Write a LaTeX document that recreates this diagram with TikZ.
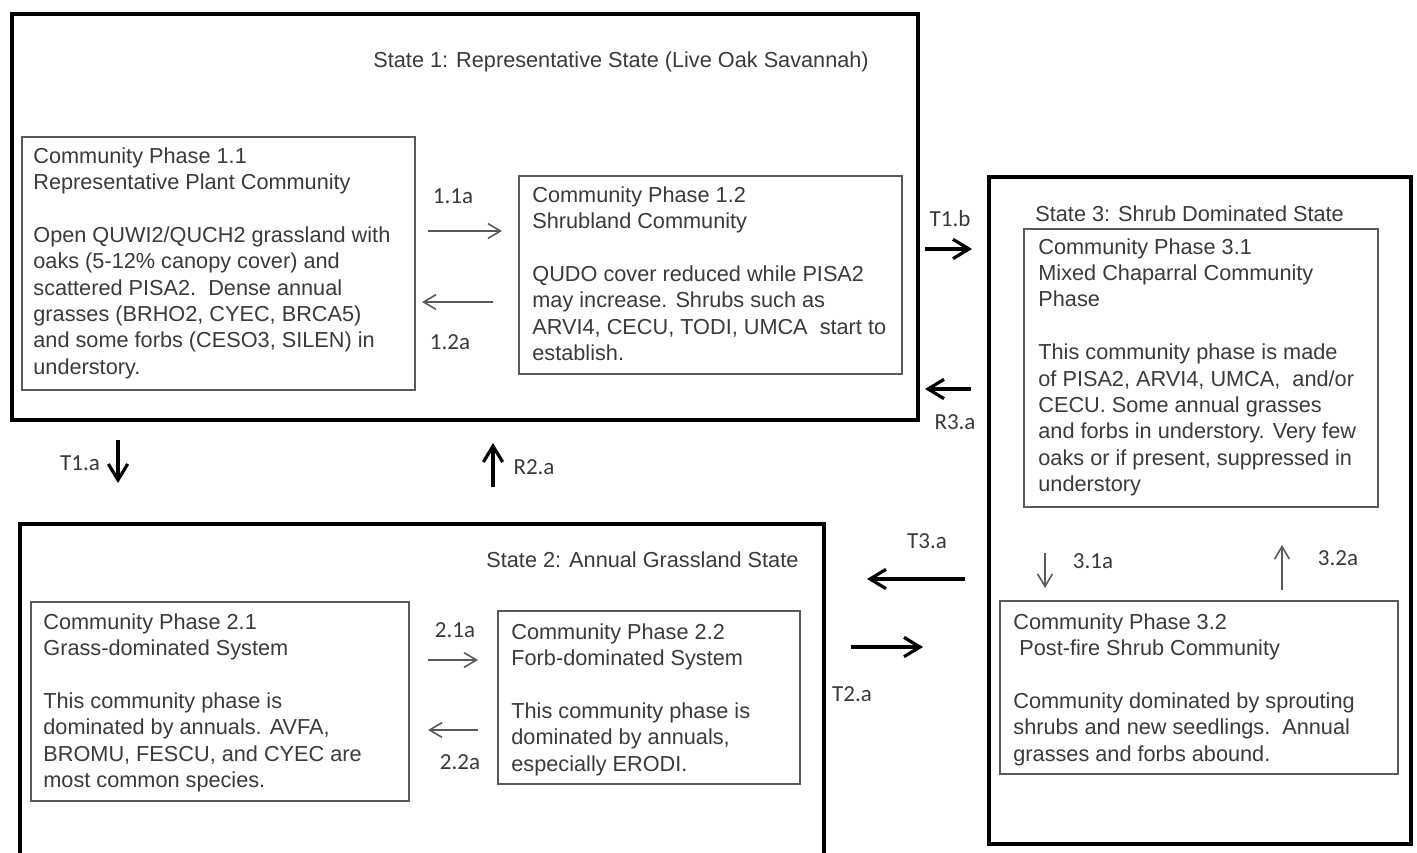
\documentclass[tikz,border=0pt]{standalone}
\usepackage{fontspec}
\setmainfont{Liberation Sans}
\newfontfamily\lblfont{Carlito}
\usetikzlibrary{arrows.meta,positioning,calc}
\definecolor{ink}{HTML}{3A3A3A}
\definecolor{frame}{HTML}{5A5A5A}

\begin{document}
\begin{tikzpicture}[x=0.5pt,y=-0.5pt,
  statebox/.style={draw=black,line width=2pt,anchor=north west,inner sep=0pt},
  phasebox/.style={draw=frame,line width=0.8pt,anchor=north west,inner sep=0pt},
  phasetext/.style={anchor=north west,inner sep=0pt,align=left,text=ink,font=\fontsize{10.85}{13.2}\selectfont},
  titletext/.style={anchor=west,inner sep=0pt,text=ink,font=\fontsize{10.85}{13.2}\selectfont},
  lbl/.style={inner sep=0pt,text=ink,font=\lblfont\fontsize{11.5}{13}\selectfont},
  phaseshift/.style={-{Straight Barb[length=2.2mm,width=2.6mm]},draw=frame,line width=0.8pt},
  trans/.style={-{Straight Barb[length=2.8mm,width=3.4mm]},draw=black,line width=1.6pt}]
\clip (0,0) rectangle (1417,852);

% states
\node[statebox,minimum width=453pt,minimum height=203pt] (s1) at (10,12) {};
\node[statebox,minimum width=211pt,minimum height=333.5pt] (s3) at (987,175) {};
\node[statebox,minimum width=402pt,minimum height=189pt] (s2) at (18,522) {};
\node[titletext] (s1t) at (373,62) {State 1: Representative State (Live Oak Savannah)};
\node[titletext] (s3t) at (1035,214) {State 3: Shrub Dominated State};
\node[titletext] (s2t) at (486,560) {State 2: Annual Grassland State};

% community phases
\node[phasebox,minimum width=196.5pt,minimum height=126.5pt] (cp11) at (21,136) {};
\node[phasetext] (cp11t) at (33,147) {Community Phase 1.1\\Representative Plant Community\\[13.2pt]
Open QUWI2/QUCH2 grassland with\\oaks (5-12\% canopy cover) and\\scattered PISA2.\ \ Dense annual\\
grasses (BRHO2, CYEC, BRCA5)\\and some forbs (CESO3, SILEN) in\\understory.};

\node[phasebox,minimum width=191.5pt,minimum height=99pt] (cp12) at (518,175) {};
\node[phasetext] (cp12t) at (532,186) {Community Phase 1.2\\Shrubland Community\\[13.2pt]
QUDO cover reduced while PISA2\\may increase. Shrubs such as\\ARVI4, CECU, TODI, UMCA\ \ start to\\establish.};

\node[phasebox,minimum width=177pt,minimum height=139pt] (cp31) at (1023,228) {};
\node[phasetext] (cp31t) at (1038,238) {Community Phase 3.1\\Mixed Chaparral Community\\Phase\\[13.2pt]
This community phase is made\\of PISA2, ARVI4, UMCA,\ \ and/or\\CECU. Some annual grasses\\
and forbs in understory. Very few\\oaks or if present, suppressed in\\understory};

\node[phasebox,minimum width=199pt,minimum height=86.5pt] (cp32) at (999,600) {};
\node[phasetext] (cp32t) at (1013,613) {Community Phase 3.2\\\ Post-fire Shrub Community\\[13.2pt]
Community dominated by sprouting\\shrubs and new seedlings.\ \ Annual\\grasses and forbs abound.};

\node[phasebox,minimum width=189pt,minimum height=99.5pt] (cp21) at (30,601) {};
\node[phasetext] (cp21t) at (43,613) {Community Phase 2.1\\Grass-dominated System\\[13.2pt]
This community phase is\\dominated by annuals. AVFA,\\BROMU, FESCU, and CYEC are\\most common species.};

\node[phasebox,minimum width=151pt,minimum height=86.5pt] (cp22) at (497,610) {};
\node[phasetext] (cp22t) at (511,623) {Community Phase 2.2\\Forb-dominated System\\[13.2pt]
This community phase is\\dominated by annuals,\\especially ERODI.};

% arrow ends
\coordinate (a11s) at (428,231); \coordinate (a11e) at (502,231);
\coordinate (a12s) at (493,302); \coordinate (a12e) at (422,302);
\coordinate (a21s) at (428,660); \coordinate (a21e) at (478,660);
\coordinate (a22s) at (478,730); \coordinate (a22e) at (428,730);
\coordinate (a31s) at (1045,553); \coordinate (a31e) at (1045,588);
\coordinate (a32s) at (1282,590); \coordinate (a32e) at (1282,545);
\coordinate (t1bs) at (925,249); \coordinate (t1be) at (972,249);
\coordinate (r3as) at (971,389); \coordinate (r3ae) at (925,389);
\coordinate (t1as) at (118,440); \coordinate (t1ae) at (118,483);
\coordinate (r2as) at (493,487); \coordinate (r2ae) at (493,443);
\coordinate (t3as) at (965,579); \coordinate (t3ae) at (867,579);
\coordinate (t2as) at (851,647); \coordinate (t2ae) at (923,647);

% phase shifts
\draw[phaseshift] (a11s) -- (a11e);
\draw[phaseshift] (a12s) -- (a12e);
\draw[phaseshift] (a21s) -- (a21e);
\draw[phaseshift] (a22s) -- (a22e);
\draw[phaseshift] (a31s) -- (a31e);
\draw[phaseshift] (a32s) -- (a32e);
\node[lbl] (l11) at (453,196) {1.1a};
\node[lbl] (l12) at (450,342) {1.2a};
\node[lbl] (l21) at (455,630) {2.1a};
\node[lbl] (l22) at (460,762) {2.2a};
\node[lbl] (l31) at (1093,561) {3.1a};
\node[lbl] (l32) at (1338,558) {3.2a};

% transitions
\draw[trans] (t1bs) -- (t1be);
\draw[trans] (r3as) -- (r3ae);
\draw[trans] (t1as) -- (t1ae);
\draw[trans] (r2as) -- (r2ae);
\draw[trans] (t3as) -- (t3ae);
\draw[trans] (t2as) -- (t2ae);
\node[lbl] (lt1b) at (950,219) {T1.b};
\node[lbl] (lr3a) at (955,422) {R3.a};
\node[lbl] (lt1a) at (80,463) {T1.a};
\node[lbl] (lr2a) at (534,467) {R2.a};
\node[lbl] (lt3a) at (927,541) {T3.a};
\node[lbl] (lt2a) at (852,694) {T2.a};
\end{tikzpicture}
\end{document}
